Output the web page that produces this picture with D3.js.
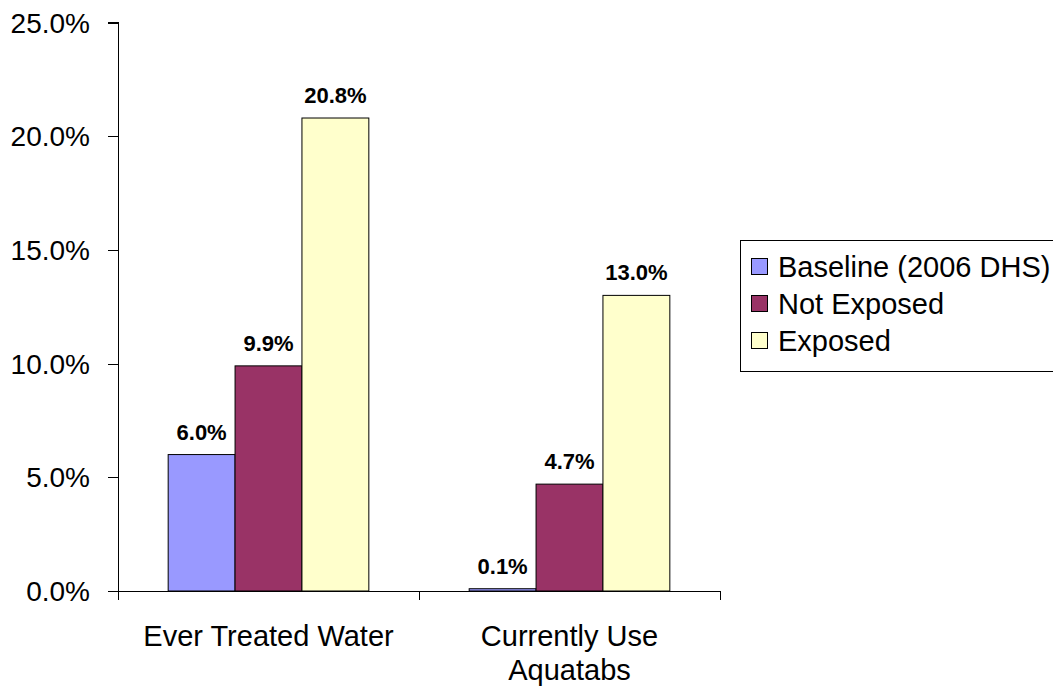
<!DOCTYPE html>
<html>
<head>
<meta charset="utf-8">
<script src="https://cdn.jsdelivr.net/npm/d3@7"></script>
<style>
  body { margin: 0; background: #fff; }
  text { font-family: Arial, "Liberation Sans", sans-serif; }
</style>
</head>
<body>
<div id="chart"></div>
<script>
// data
var categories = [["Ever Treated Water"], ["Currently Use", "Aquatabs"]]
var seriesNames = ["Baseline (2006 DHS)", "Not Exposed", "Exposed"]
var baseline = [6.0, 0.1]
var notExposed = [9.9, 4.7]
var exposed = [20.8, 13.0]
var yTicks = [0, 5, 10, 15, 20, 25]

var colors = ["#9999FF", "#993366", "#FFFFCC"]
var values = [baseline, notExposed, exposed]

var width = 1053
var height = 686

var svg = d3.select("#chart")
  .append("svg")
    .attr("width", width)
    .attr("height", height)

// plot area (don't use "top" - clashes with window.top)
var plotLeft = 118, plotRight = 720, plotTop = 22.5, plotBottom = 591

var catKeys = categories.map(function(d, i){ return i })

var x0 = d3.scaleBand()
  .domain(catKeys)
  .range([plotLeft, plotRight])
  .paddingInner(0)
  .paddingOuter(0)

// gap width 150% -> outer padding 0.75 of a bar on each side
var x1 = d3.scaleBand()
  .domain(d3.range(seriesNames.length))
  .range([0, x0.bandwidth()])
  .paddingInner(0)
  .paddingOuter(0.75)

var y = d3.scaleLinear()
  .domain([0, 25])
  .range([plotBottom, plotTop])

// bars
var groups = svg.append("g")
  .selectAll("g")
  .data(catKeys)
  .enter()
  .append("g")
    .attr("transform", function(c){ return "translate(" + x0(c) + ",0)" })

groups.selectAll("rect")
  .data(function(c){
    return values.map(function(v, s){ return {s: s, v: v[c]} })
  })
  .enter()
  .append("rect")
    .attr("x", function(d){ return x1(d.s) })
    .attr("y", function(d){ return y(d.v) })
    .attr("width", x1.bandwidth())
    .attr("height", function(d){ return y(0) - y(d.v) })
    .attr("fill", function(d){ return colors[d.s] })
    .attr("stroke", "#000")
    .attr("stroke-width", 1)

// value labels
groups.selectAll("text")
  .data(function(c){
    return values.map(function(v, s){ return {s: s, v: v[c]} })
  })
  .enter()
  .append("text")
    .attr("x", function(d){ return x1(d.s) + x1.bandwidth() / 2 })
    .attr("y", function(d){ return y(d.v) - 15 })
    .attr("text-anchor", "middle")
    .style("font-size", "22px")
    .style("font-weight", "bold")
    .text(function(d){ return d.v.toFixed(1) + "%" })

// y axis
var yAxis = svg.append("g")
  .attr("transform", "translate(" + plotLeft + ",0)")
  .call(d3.axisLeft(y)
    .tickValues(yTicks)
    .tickSize(10)
    .tickPadding(18)
    .tickFormat(function(d){ return d.toFixed(1) + "%" }))
yAxis.selectAll("text")
  .style("font-size", "28px")
  .attr("fill", "#000")
  .attr("dy", "0.34em")
yAxis.selectAll("line, path").attr("stroke", "#000").attr("shape-rendering", "crispEdges")
yAxis.select(".domain").attr("d", "M0," + plotBottom + "V" + plotTop + "H-10")

// x axis line with ticks at category boundaries
var xg = svg.append("g")
xg.append("line")
  .attr("x1", plotLeft - 10).attr("x2", plotRight)
  .attr("y1", plotBottom).attr("y2", plotBottom)
  .attr("stroke", "#000")
  .attr("shape-rendering", "crispEdges")
var bounds = catKeys.map(function(c){ return x0(c) }).concat([x0(catKeys[catKeys.length - 1]) + x0.bandwidth()])
xg.selectAll(".xt")
  .data(bounds)
  .enter()
  .append("line")
    .attr("x1", function(d){ return d }).attr("x2", function(d){ return d })
    .attr("y1", plotBottom).attr("y2", plotBottom + 9)
    .attr("stroke", "#000")
    .attr("shape-rendering", "crispEdges")

// category labels
xg.selectAll(".cat")
  .data(catKeys)
  .enter()
  .append("text")
    .attr("x", function(c){ return x0(c) + x0.bandwidth() / 2 })
    .attr("y", 646)
    .attr("text-anchor", "middle")
    .style("font-size", "29px")
    .each(function(c){
      var t = d3.select(this)
      categories[c].forEach(function(line, i){
        t.append("tspan")
          .attr("x", x0(c) + x0.bandwidth() / 2)
          .attr("dy", i == 0 ? 0 : 34)
          .text(line)
      })
    })

// legend
var legend = svg.append("g")
legend.append("rect")
  .attr("x", 740.5).attr("y", 240.5)
  .attr("width", 330).attr("height", 131)
  .attr("fill", "#fff")
  .attr("stroke", "#000")

var items = legend.selectAll(".item")
  .data(seriesNames)
  .enter()
  .append("g")
    .attr("transform", function(d, i){ return "translate(0," + (267 + i * 37) + ")" })

items.append("rect")
  .attr("x", 751.5).attr("y", -8.5)
  .attr("width", 16).attr("height", 16)
  .attr("fill", function(d, i){ return colors[i] })
  .attr("stroke", "#000")

items.append("text")
  .attr("x", 778)
  .attr("y", 0)
  .attr("dy", "0.36em")
  .style("font-size", "29px")
  .text(function(d){ return d })
</script>
</body>
</html>
